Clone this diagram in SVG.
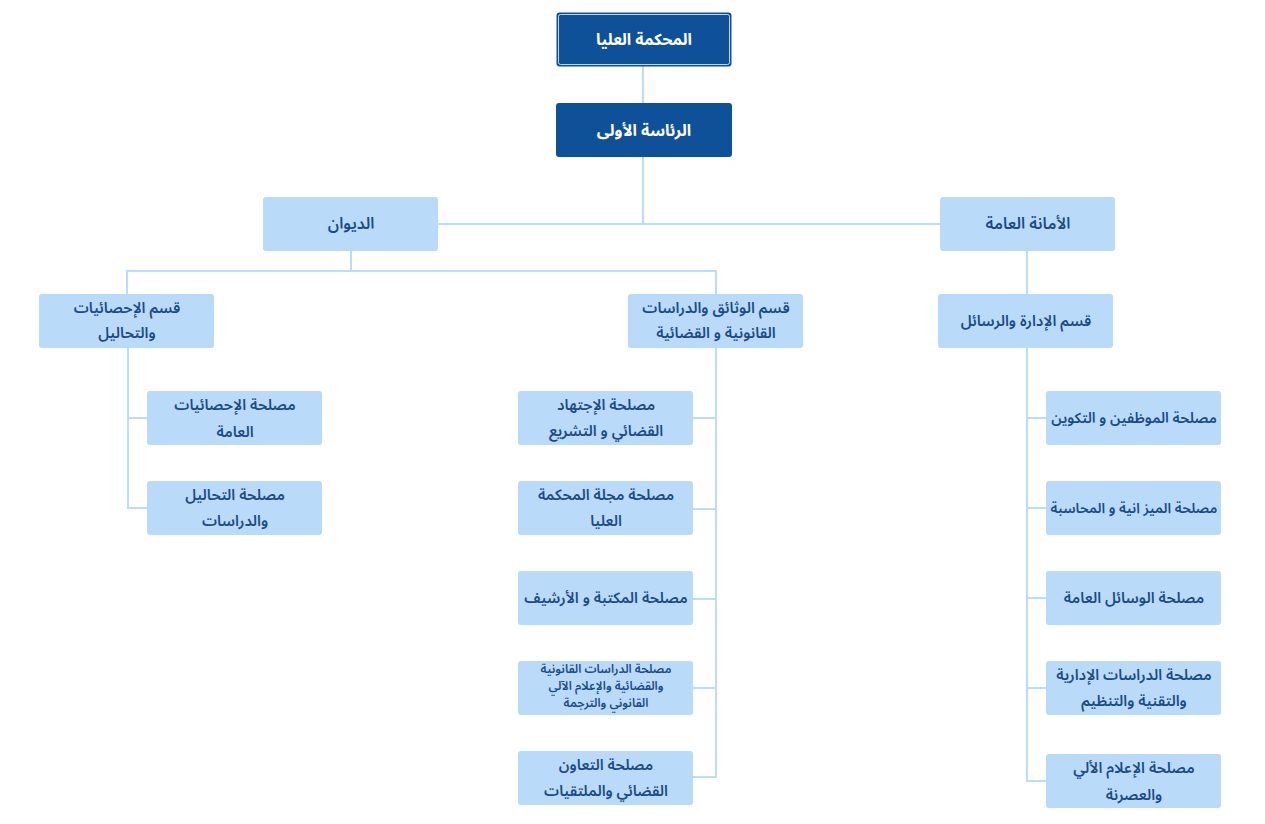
<svg xmlns="http://www.w3.org/2000/svg" width="1265" height="824" viewBox="0 0 1265 824">
<style>
text{font-family:"Noto Sans Arabic","DejaVu Sans","Noto Sans",sans-serif;text-anchor:middle;direction:rtl;}
.top rect.b{fill:#0f5199;}
.top text{fill:#ffffff;font-size:16px;font-weight:bold;}
.n rect{fill:#badaf9;}
.n text{fill:#1b4b85;font-size:15px;font-weight:600;}
.s text{font-size:12px;}
.c line{stroke:#bcdcfa;stroke-width:2;}
</style>
<rect width="1265" height="824" fill="#ffffff"/>
<g class="c">
<line x1="643" y1="66" x2="643" y2="103"/>
<line x1="643" y1="157" x2="643" y2="224"/>
<line x1="438" y1="224" x2="940" y2="224"/>
<line x1="351" y1="251" x2="351" y2="271"/>
<line x1="127" y1="271" x2="716" y2="271"/>
<line x1="127" y1="270" x2="127" y2="294"/>
<line x1="716" y1="270" x2="716" y2="294"/>
<line x1="1027" y1="251" x2="1027" y2="294"/>
<line x1="128" y1="348" x2="128" y2="509"/>
<line x1="127" y1="418" x2="147" y2="418"/>
<line x1="127" y1="508" x2="147" y2="508"/>
<line x1="716" y1="348" x2="716" y2="778"/>
<line x1="693" y1="418" x2="717" y2="418"/>
<line x1="693" y1="509" x2="717" y2="509"/>
<line x1="693" y1="599" x2="717" y2="599"/>
<line x1="693" y1="688" x2="717" y2="688"/>
<line x1="693" y1="777" x2="717" y2="777"/>
<line x1="1027" y1="348" x2="1027" y2="782"/>
<line x1="1026" y1="418" x2="1046" y2="418"/>
<line x1="1026" y1="508" x2="1046" y2="508"/>
<line x1="1026" y1="598" x2="1046" y2="598"/>
<line x1="1026" y1="688" x2="1046" y2="688"/>
<line x1="1026" y1="781" x2="1046" y2="781"/>
</g>
<g id="n-supreme" class="top">
<rect class="b" x="556.5" y="12.5" width="175" height="54" rx="3"/>
<rect x="558.5" y="14.5" width="171" height="50" rx="2" fill="none" stroke="#ffffff" stroke-opacity="0.75" stroke-width="1"/>
<text x="644" y="45">المحكمة العليا</text>
</g>
<g id="n-presidency" class="top">
<rect class="b" x="556" y="103" width="176" height="54" rx="3"/>
<text x="644" y="136">الرئاسة الأولى</text>
</g>
<g id="n-diwan" class="n">
<rect x="263" y="197" width="175" height="54" rx="3"/>
<text x="351" y="229" style="font-size:16px">الديوان</text>
</g>
<g id="n-amana" class="n">
<rect x="940" y="197" width="175" height="54" rx="3"/>
<text x="1028" y="229" style="font-size:16px">الأمانة العامة</text>
</g>
<g id="n-stats" class="n">
<rect x="39" y="294" width="175" height="54" rx="3"/>
<text x="127" y="313">قسم الإحصائيات</text>
<text x="127" y="338">والتحاليل</text>
</g>
<g id="n-docs" class="n">
<rect x="628" y="294" width="175" height="54" rx="3"/>
<text x="716" y="313">قسم الوثائق والدراسات</text>
<text x="716" y="338">القانونية و القضائية</text>
</g>
<g id="n-admin" class="n">
<rect x="938" y="294" width="175" height="54" rx="3"/>
<text x="1026" y="326">قسم الإدارة والرسائل</text>
</g>
<g id="n-stats-general" class="n">
<rect x="147" y="391" width="175" height="54" rx="3"/>
<text x="235" y="410">مصلحة الإحصائيات</text>
<text x="235" y="437">العامة</text>
</g>
<g id="n-analysis" class="n">
<rect x="147" y="481" width="175" height="54" rx="3"/>
<text x="235" y="500">مصلحة التحاليل</text>
<text x="235" y="526">والدراسات</text>
</g>
<g id="n-ijtihad" class="n">
<rect x="518" y="391" width="175" height="54" rx="3"/>
<text x="606" y="410">مصلحة الإجتهاد</text>
<text x="606" y="436">القضائي و التشريع</text>
</g>
<g id="n-journal" class="n">
<rect x="518" y="481" width="175" height="54" rx="3"/>
<text x="606" y="500">مصلحة مجلة المحكمة</text>
<text x="606" y="526">العليا</text>
</g>
<g id="n-library" class="n">
<rect x="518" y="571" width="175" height="54" rx="3"/>
<text x="606" y="603">مصلحة المكتبة و الأرشيف</text>
</g>
<g id="n-legal-studies" class="n s">
<rect x="518" y="661" width="175" height="54" rx="3"/>
<text x="606" y="673">مصلحة الدراسات القانونية</text>
<text x="606" y="690">والقضائية والإعلام الآلي</text>
<text x="606" y="707">القانوني والترجمة</text>
</g>
<g id="n-cooperation" class="n">
<rect x="518" y="751" width="175" height="54" rx="3"/>
<text x="606" y="770">مصلحة التعاون</text>
<text x="606" y="796">القضائي والملتقيات</text>
</g>
<g id="n-staff" class="n">
<rect x="1046" y="391" width="175" height="54" rx="3"/>
<text x="1134" y="423" style="font-size:14.5px">مصلحة الموظفين و التكوين</text>
</g>
<g id="n-budget" class="n">
<rect x="1046" y="481" width="175" height="54" rx="3"/>
<text x="1134" y="513" style="font-size:14px">مصلحة الميز انية و المحاسبة</text>
</g>
<g id="n-means" class="n">
<rect x="1046" y="571" width="175" height="54" rx="3"/>
<text x="1134" y="603">مصلحة الوسائل العامة</text>
</g>
<g id="n-admin-studies" class="n">
<rect x="1046" y="661" width="175" height="54" rx="3"/>
<text x="1134" y="680">مصلحة الدراسات الإدارية</text>
<text x="1134" y="706">والتقنية والتنظيم</text>
</g>
<g id="n-it" class="n">
<rect x="1046" y="754" width="175" height="54" rx="3"/>
<text x="1134" y="773">مصلحة الإعلام الألي</text>
<text x="1134" y="800">والعصرنة</text>
</g>
</svg>
